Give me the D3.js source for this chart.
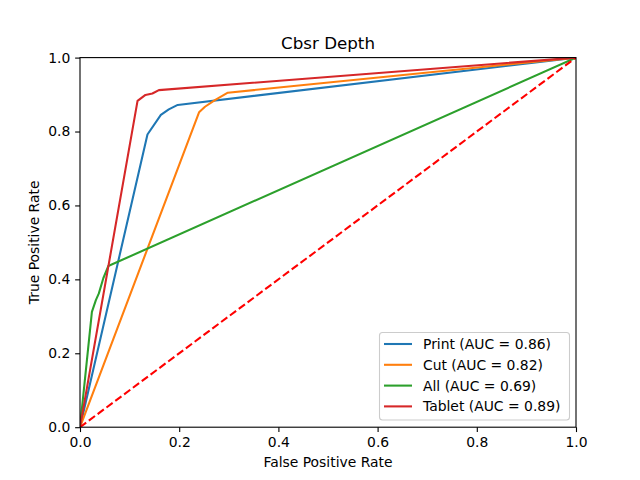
<!DOCTYPE html>
<html><head><meta charset="utf-8">
<script src="https://cdn.jsdelivr.net/npm/d3@7"></script>
<style>body{margin:0;background:#fff}text{font-family:"DejaVu Sans",sans-serif}</style>
</head><body><svg id="c" width="640" height="480"></svg>
<script>
const seriesNames = ["Print (AUC = 0.86)", "Cut (AUC = 0.82)", "All (AUC = 0.69)", "Tablet (AUC = 0.89)"];
const seriesColors = ["#1f77b4", "#ff7f0e", "#2ca02c", "#d62728"];
const printFpr = [0, 0.136, 0.163, 0.179, 0.197, 1];
const printTpr = [0, 0.792, 0.845, 0.860, 0.872, 1];
const cutFpr = [0, 0.240, 0.252, 0.272, 0.298, 1];
const cutTpr = [0, 0.852, 0.867, 0.885, 0.905, 1];
const allFpr = [0, 0.024, 0.032, 0.038, 0.047, 0.057, 1];
const allTpr = [0, 0.312, 0.344, 0.362, 0.403, 0.436, 1];
const tabletFpr = [0, 0.116, 0.132, 0.146, 0.159, 1];
const tabletTpr = [0, 0.883, 0.899, 0.903, 0.912, 1];
const tickValues = [0, 0.2, 0.4, 0.6, 0.8, 1.0];

const svg = d3.select("#c");
const L = 80, R = 576, T = 57.6, B = 427.2;
const x = d3.scaleLinear().domain([0, 1]).range([L, R]);
const y = d3.scaleLinear().domain([0, 1]).range([B, T]);

const series = [[printFpr, printTpr], [cutFpr, cutTpr], [allFpr, allTpr], [tabletFpr, tabletTpr]];
const line = d3.line().x(d => x(d[0])).y(d => y(d[1]));
const clip = svg.append("clipPath").attr("id", "cp").append("rect")
  .attr("x", L).attr("y", T).attr("width", R - L).attr("height", B - T);
const g = svg.append("g").attr("clip-path", "url(#cp)");
series.forEach((s, i) => {
  const pts = s[0].map((f, k) => [f, s[1][k]]);
  g.append("path").attr("d", line(pts)).attr("fill", "none")
    .attr("stroke", seriesColors[i]).attr("stroke-width", 2.08)
    .attr("stroke-linejoin", "round").attr("stroke-linecap", "square");
});
g.append("path").attr("d", line([[0, 0], [1, 1]])).attr("fill", "none")
  .attr("stroke", "red").attr("stroke-width", 2.08).attr("stroke-dasharray", "7.7,3.3");

const fmt = d3.format(".1f");
const xa = svg.append("g").attr("transform", `translate(0,${B})`)
  .call(d3.axisBottom(x).tickValues(tickValues).tickFormat(fmt).tickSize(4.86).tickPadding(4.9));
const ya = svg.append("g").attr("transform", `translate(${L},0)`)
  .call(d3.axisLeft(y).tickValues(tickValues).tickFormat(fmt).tickSize(4.86).tickPadding(4.9));
[xa, ya].forEach(a => {
  a.select(".domain").remove();
  a.selectAll("line").attr("stroke", "#000").attr("stroke-width", 1.1);
  a.selectAll("text").attr("font-size", 13.9).attr("fill", "#000").style("font-family", "DejaVu Sans");
});
svg.append("rect").attr("x", L).attr("y", T).attr("width", R - L).attr("height", B - T)
  .attr("fill", "none").attr("stroke", "#000").attr("stroke-width", 1.1);

svg.append("text").attr("x", (L + R) / 2).attr("y", 49).attr("text-anchor", "middle")
  .attr("font-size", 16.7).text("Cbsr Depth");
svg.append("text").attr("x", (L + R) / 2).attr("y", 467).attr("text-anchor", "middle")
  .attr("font-size", 13.9).text("False Positive Rate");
svg.append("text").attr("transform", `translate(39,${(T + B) / 2}) rotate(-90)`).attr("text-anchor", "middle")
  .attr("font-size", 13.9).text("True Positive Rate");

const lg = svg.append("g");
lg.append("rect").attr("x", 379.5).attr("y", 332.5).attr("width", 190).attr("height", 87.5)
  .attr("rx", 3).attr("fill", "#fff").attr("fill-opacity", 0.8).attr("stroke", "#ccc").attr("stroke-width", 1.1);
seriesNames.forEach((n, i) => {
  const yy = 344 + i * 20.8;
  lg.append("line").attr("x1", 384).attr("x2", 412).attr("y1", yy).attr("y2", yy)
    .attr("stroke", seriesColors[i]).attr("stroke-width", 2.08);
  lg.append("text").attr("x", 423).attr("y", yy + 5).attr("font-size", 13.9).text(n);
});
</script></body></html>
